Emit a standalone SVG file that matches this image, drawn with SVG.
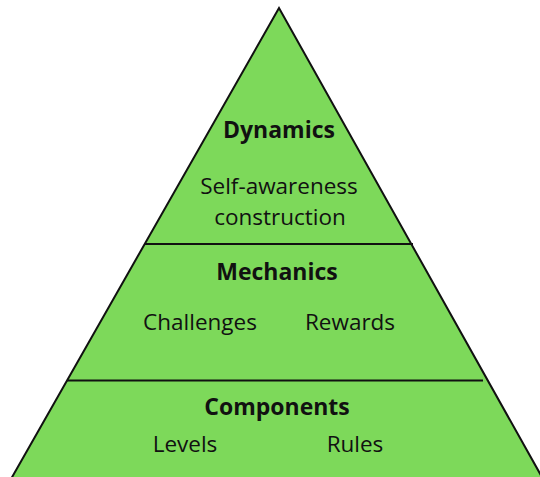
<svg xmlns="http://www.w3.org/2000/svg" width="540" height="477" viewBox="0 0 540 477">
<style>
.t{font-family:"Open Sans","Noto Sans",sans-serif;fill:#111;text-anchor:middle}
.h{font-size:23px;font-weight:bold}
.b{font-size:22.5px}
.sep{stroke:#111;stroke-width:2}
</style>
<rect width="540" height="477" fill="#fff"/>
<g id="pyramid">
<polygon points="279,8 11,479 543,479" fill="#7dd95a" stroke="#111" stroke-width="2" stroke-linejoin="miter"/>
</g>
<g id="connectors">
<line class="sep" x1="145" y1="244" x2="413" y2="244"/>
<line class="sep" x1="67" y1="380.5" x2="483" y2="380.5"/>
</g>
<g id="dynamics">
<text class="t h" x="279" y="138">Dynamics</text>
<text class="t b" x="279" y="194">Self-awareness</text>
<text class="t b" x="280" y="225">construction</text>
</g>
<g id="mechanics">
<text class="t h" x="277" y="280">Mechanics</text>
<text class="t b" x="200" y="330">Challenges</text>
<text class="t b" x="350" y="330">Rewards</text>
</g>
<g id="components">
<text class="t h" x="277" y="415">Components</text>
<text class="t b" x="185" y="452">Levels</text>
<text class="t b" x="355" y="452">Rules</text>
</g>
</svg>
